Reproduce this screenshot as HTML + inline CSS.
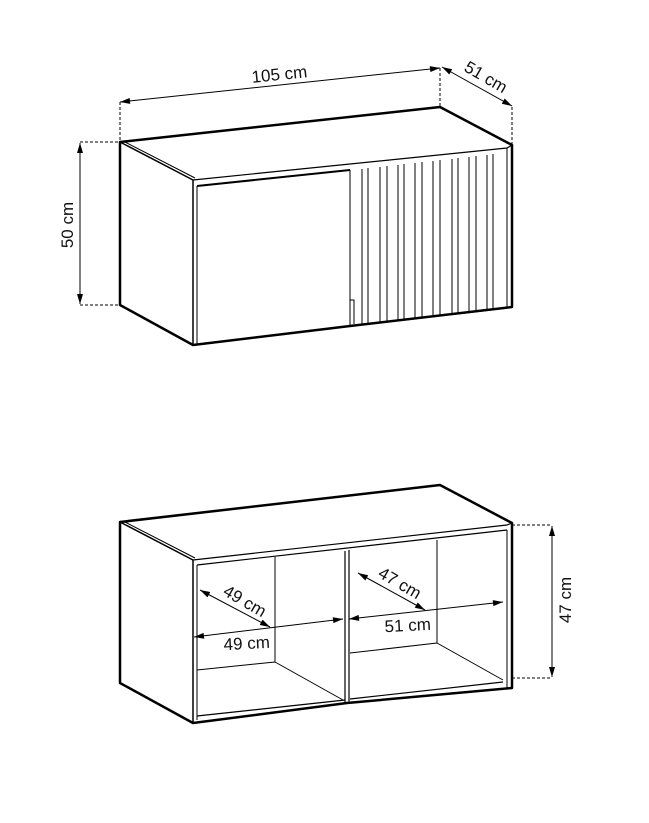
<!DOCTYPE html>
<html><head><style>html,body{margin:0;padding:0;background:#fff}svg{display:block}text{font-family:"Liberation Sans",sans-serif;font-size:17px;fill:#111}</style></head>
<body>
<svg width="649" height="823" viewBox="0 0 649 823" xmlns="http://www.w3.org/2000/svg">
<defs>
<marker id="a" viewBox="0 0 10 6" refX="10" refY="3" markerWidth="14" markerHeight="6" markerUnits="userSpaceOnUse" orient="auto-start-reverse"><path d="M0,0L10,3L0,6z" fill="#000"/></marker>
</defs>
<g fill="none" stroke="#000" stroke-linejoin="round">
<!-- TOP CABINET -->
<path d="M120,142 L440,107 L512,145 L512,307 L350,326 L193,345 L120,305 Z" stroke-width="2.5"/>
<path d="M120,142 L193,180 L193,345" stroke-width="1.5"/>
<path d="M125,142 L195,178" stroke-width="1"/>
<path d="M193,180 L507,148 L512,145" stroke-width="1.2"/>
<path d="M197,186 L350,170" stroke-width="2"/>
<path d="M197,186 L197,344" stroke-width="1"/>
<path d="M350,170 L350,326 M350,300 L354,300 L354,324" stroke-width="1"/>
<path d="M507,148 L507,308" stroke-width="1"/>
<path d="M350,326 L507,308" stroke-width="1.5"/>
<g stroke-width="1">
<path d="M362,169 V324 M368,168 V323"/>
<path d="M380,167 V322 M387,166 V321"/>
<path d="M398,165 V320 M404,164 V319"/>
<path d="M415,163 V318 M422,162 V317"/>
<path d="M433,161 V316 M440,160 V315"/>
<path d="M452,159 V314 M458,158 V313"/>
<path d="M469,157 V312 M476,156 V311"/>
<path d="M487,155 V310 M493,154 V309"/>
</g>
<!-- top dims -->
<path d="M120,102 V142 M440,68 V107 M512,107 V145 M80,142 H120 M80,305 H120" stroke-width="1" stroke-dasharray="3,2"/>
<path d="M120,102 L440,68" stroke-width="1" marker-start="url(#a)" marker-end="url(#a)"/>
<path d="M442,67 L512,106" stroke-width="1" marker-start="url(#a)" marker-end="url(#a)"/>
<path d="M80,143 L80,304" stroke-width="1" marker-start="url(#a)" marker-end="url(#a)"/>

<!-- BOTTOM CABINET -->
<path d="M120,522 L440,485 L512,523 L512,688 L347,703 L193,723 L120,683 Z" stroke-width="2.5"/>
<path d="M120,522 L193,560 L193,723" stroke-width="1.5"/>
<path d="M125,522 L195,558" stroke-width="1"/>
<path d="M193,560 L507,525 L512,523" stroke-width="1.2"/>
<path d="M197,565 L507,530" stroke-width="1.2"/>
<path d="M197,565 V720 M507,530 V688" stroke-width="1"/>
<path d="M197,716 L345,700 M350,699 L503,682" stroke-width="1.2"/>
<path d="M345,551 V703 M349,550 V703" stroke-width="1.2"/>
<path d="M275,557 V662 M197,670 L275,662 L343,700" stroke-width="1"/>
<path d="M437,540 V643 M350,653 L437,643 L503,680" stroke-width="1"/>
<!-- bottom dims -->
<path d="M512,525 H552 M512,678 H552" stroke-width="1" stroke-dasharray="3,2"/>
<path d="M552,526 L552,677" stroke-width="1" marker-start="url(#a)" marker-end="url(#a)"/>
<path d="M200,590 L270,627" stroke-width="1" marker-start="url(#a)" marker-end="url(#a)"/>
<path d="M194,637 L343,619" stroke-width="1" marker-start="url(#a)" marker-end="url(#a)"/>
<path d="M349,619 L503,602" stroke-width="1" marker-start="url(#a)" marker-end="url(#a)"/>
<path d="M358,573 L425,610" stroke-width="1" marker-start="url(#a)" marker-end="url(#a)"/>
</g>
<text x="280" y="80" text-anchor="middle" transform="rotate(-6 280 80)">105 cm</text>
<text x="483" y="82" text-anchor="middle" transform="rotate(30 483 82)">51 cm</text>
<text x="73" y="225" text-anchor="middle" transform="rotate(-90 73 225)">50 cm</text>
<text x="242" y="606" text-anchor="middle" transform="rotate(30 242 606)">49 cm</text>
<text x="247" y="649" text-anchor="middle" transform="rotate(-3 247 649)">49 cm</text>
<text x="408" y="631" text-anchor="middle" transform="rotate(-3 408 631)">51 cm</text>
<text x="397" y="588" text-anchor="middle" transform="rotate(30 397 588)">47 cm</text>
<text x="571" y="600" text-anchor="middle" transform="rotate(-90 571 600)">47 cm</text>
</svg>
</body></html>
